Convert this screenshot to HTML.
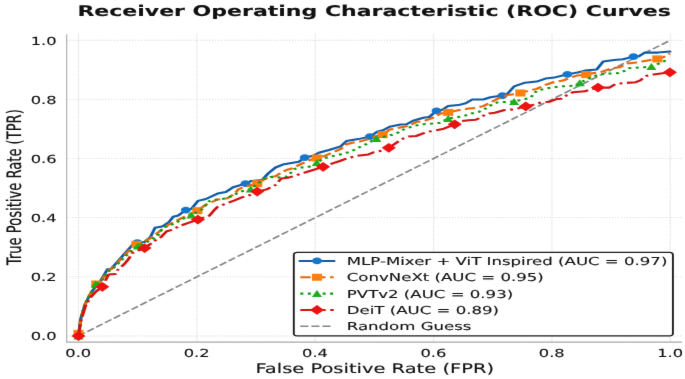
<!DOCTYPE html>
<html lang="en"><head><meta charset="utf-8"><title>Receiver Operating Characteristic (ROC) Curves</title>
<style>html,body{margin:0;padding:0;background:#fff;}svg{display:block;}text{text-rendering:geometricPrecision;font-family:"DejaVu Sans","Liberation Sans",sans-serif;fill:#111;stroke:#111;stroke-width:0.12px;}</style>
</head><body>
<svg width="685" height="379" viewBox="0 0 685 379">
<defs><filter id="soft" x="-2%" y="-2%" width="104%" height="104%" color-interpolation-filters="sRGB"><feConvolveMatrix order="3" kernelMatrix="0.00487 0.05525 0.00487 0.06525 0.73950 0.06525 0.00487 0.05525 0.00487" divisor="1" edgeMode="duplicate" preserveAlpha="false"/></filter></defs>
<rect x="0" y="0" width="685" height="379" fill="#ffffff"/>
<g filter="url(#soft)">
<g transform="scale(1.52,1)">
<line x1="51.64" y1="34.2" x2="51.64" y2="342.1" stroke="#d2d2d2" stroke-width="0.8" stroke-dasharray="0.75 1.2"/>
<line x1="43.88" y1="336.00" x2="448.68" y2="336.00" stroke="#d2d2d2" stroke-width="0.8" stroke-dasharray="0.75 1.2"/>
<line x1="129.51" y1="34.2" x2="129.51" y2="342.1" stroke="#d2d2d2" stroke-width="0.8" stroke-dasharray="0.75 1.2"/>
<line x1="43.88" y1="276.85" x2="448.68" y2="276.85" stroke="#d2d2d2" stroke-width="0.8" stroke-dasharray="0.75 1.2"/>
<line x1="207.38" y1="34.2" x2="207.38" y2="342.1" stroke="#d2d2d2" stroke-width="0.8" stroke-dasharray="0.75 1.2"/>
<line x1="43.88" y1="217.70" x2="448.68" y2="217.70" stroke="#d2d2d2" stroke-width="0.8" stroke-dasharray="0.75 1.2"/>
<line x1="285.25" y1="34.2" x2="285.25" y2="342.1" stroke="#d2d2d2" stroke-width="0.8" stroke-dasharray="0.75 1.2"/>
<line x1="43.88" y1="158.55" x2="448.68" y2="158.55" stroke="#d2d2d2" stroke-width="0.8" stroke-dasharray="0.75 1.2"/>
<line x1="363.12" y1="34.2" x2="363.12" y2="342.1" stroke="#d2d2d2" stroke-width="0.8" stroke-dasharray="0.75 1.2"/>
<line x1="43.88" y1="99.40" x2="448.68" y2="99.40" stroke="#d2d2d2" stroke-width="0.8" stroke-dasharray="0.75 1.2"/>
<line x1="440.99" y1="34.2" x2="440.99" y2="342.1" stroke="#d2d2d2" stroke-width="0.8" stroke-dasharray="0.75 1.2"/>
<line x1="43.88" y1="40.25" x2="448.68" y2="40.25" stroke="#d2d2d2" stroke-width="0.8" stroke-dasharray="0.75 1.2"/>
<line x1="43.88" y1="34.2" x2="43.88" y2="342.70000000000005" stroke="#a8a8a8" stroke-width="0.7"/>
<line x1="43.88" y1="342.1" x2="448.68" y2="342.1" stroke="#a8a8a8" stroke-width="1.1"/>
<polyline points="51.64,336.00 440.99,40.25" fill="none" stroke="#858585" stroke-width="1.45" stroke-linejoin="round" stroke-linecap="butt" stroke-dasharray="5.3 2.0"/>
<polyline points="51.64,336.00 53.03,319.20 55.92,304.60 58.82,295.80 61.18,290.00 65.86,281.70 70.66,269.30 73.03,268.90 88.42,242.80 90.33,242.30 95.07,242.00 98.95,237.10 101.97,227.80 106.64,226.60 111.25,221.90 113.95,216.70 117.24,215.50 122.24,210.10 125.86,209.00 130.20,200.90 135.46,199.00 143.16,193.60 148.55,192.00 153.36,187.20 161.51,183.60 165.39,180.90 172.57,179.90 176.45,173.40 181.25,167.50 186.05,164.60 196.58,161.70 200.46,157.60 206.18,155.80 209.74,152.70 216.45,150.00 224.14,146.40 227.96,141.00 235.66,139.10 243.36,136.60 248.16,131.80 251.97,130.30 256.32,126.70 263.49,124.50 267.50,124.30 271.78,120.70 278.55,117.80 282.37,117.00 287.17,110.90 290.99,109.70 294.87,106.10 301.58,105.10 306.38,103.20 310.72,99.50 317.89,99.50 322.70,97.30 330.53,95.60 333.88,93.70 338.22,86.40 345.39,82.70 353.09,81.60 358.88,78.60 364.61,77.60 373.29,74.30 380.00,72.50 384.87,70.60 392.57,69.40 396.84,61.40 404.08,59.90 409.87,59.20 416.78,56.60 420.39,56.30 424.28,52.60 432.89,52.60 440.72,51.60" fill="none" stroke="#0f5ba8" stroke-width="2.05" stroke-linejoin="round" stroke-linecap="round"/>
<ellipse cx="51.64" cy="336.00" rx="3.23" ry="3.40" fill="#1577cc"/>
<ellipse cx="90.33" cy="242.60" rx="3.23" ry="3.40" fill="#1577cc"/>
<ellipse cx="122.24" cy="210.10" rx="3.23" ry="3.40" fill="#1577cc"/>
<ellipse cx="161.51" cy="183.60" rx="3.23" ry="3.40" fill="#1577cc"/>
<ellipse cx="200.46" cy="157.60" rx="3.23" ry="3.40" fill="#1577cc"/>
<ellipse cx="243.36" cy="136.60" rx="3.23" ry="3.40" fill="#1577cc"/>
<ellipse cx="287.17" cy="110.90" rx="3.23" ry="3.40" fill="#1577cc"/>
<ellipse cx="330.53" cy="95.60" rx="3.23" ry="3.40" fill="#1577cc"/>
<ellipse cx="373.29" cy="74.30" rx="3.23" ry="3.40" fill="#1577cc"/>
<ellipse cx="416.78" cy="56.60" rx="3.23" ry="3.40" fill="#1577cc"/>
<polyline points="51.64,336.00 53.16,319.50 55.59,305.50 58.22,297.00 61.32,288.50 66.12,281.50 70.92,271.00 73.68,268.50 78.95,260.00 84.21,251.50 89.41,245.50 94.14,242.30 99.93,237.40 104.74,231.60 110.53,225.00 117.24,219.90 123.95,214.80 129.87,210.70 135.46,204.60 143.16,199.50 149.54,198.20 154.34,193.80 156.71,189.40 161.51,186.50 169.21,183.60 173.09,179.90 176.45,177.00 181.25,176.30 185.07,172.60 188.95,169.70 192.76,168.20 197.11,164.60 202.37,160.90 208.29,158.10 213.55,155.90 219.34,152.20 224.61,148.60 227.96,144.20 231.78,142.70 236.58,141.60 242.37,139.10 247.17,136.20 251.71,134.70 256.32,129.60 261.58,128.10 268.95,125.80 273.75,122.10 279.47,120.70 284.28,118.20 290.07,113.40 294.87,112.40 303.49,109.70 308.29,108.60 313.09,108.00 317.89,106.10 321.78,103.20 325.59,100.20 328.16,98.10 333.88,95.10 338.68,94.10 342.37,93.00 347.37,90.80 353.09,88.90 358.88,84.90 364.61,82.00 370.39,80.50 375.20,77.60 380.00,75.40 386.32,74.50 390.66,73.10 396.38,71.60 402.17,68.20 407.89,67.20 412.70,63.60 418.49,62.40 425.20,60.70 432.43,58.90 436.71,57.00 440.72,53.40" fill="none" stroke="#ea660a" stroke-width="2.05" stroke-linejoin="round" stroke-linecap="butt" stroke-dasharray="6.8 3.0"/>
<rect x="48.32" y="329.90" width="6.65" height="7.0" fill="#ff7f0e"/>
<rect x="60.03" y="280.50" width="6.65" height="7.0" fill="#ff7f0e"/>
<rect x="86.41" y="240.80" width="6.65" height="7.0" fill="#ff7f0e"/>
<rect x="126.54" y="207.20" width="6.65" height="7.0" fill="#ff7f0e"/>
<rect x="165.89" y="180.10" width="6.65" height="7.0" fill="#ff7f0e"/>
<rect x="205.10" y="154.50" width="6.65" height="7.0" fill="#ff7f0e"/>
<rect x="248.39" y="131.20" width="6.65" height="7.0" fill="#ff7f0e"/>
<rect x="291.54" y="108.90" width="6.65" height="7.0" fill="#ff7f0e"/>
<rect x="339.04" y="89.50" width="6.65" height="7.0" fill="#ff7f0e"/>
<rect x="382.33" y="71.10" width="6.65" height="7.0" fill="#ff7f0e"/>
<rect x="429.11" y="55.40" width="6.65" height="7.0" fill="#ff7f0e"/>
<polyline points="51.64,336.00 53.16,319.80 55.79,305.00 58.55,296.50 62.96,284.50 66.45,281.50 71.05,271.50 74.34,268.50 79.61,260.50 84.87,253.00 90.79,246.00 97.37,241.50 103.29,236.70 107.11,227.70 115.33,223.30 118.68,219.90 125.86,215.10 133.09,209.00 137.89,200.90 142.70,199.50 146.97,198.80 150.53,197.40 155.33,193.80 159.14,191.30 164.93,189.10 170.20,182.80 173.55,179.20 177.89,177.00 183.16,177.40 187.96,177.00 190.86,173.40 193.75,169.00 197.11,167.50 202.37,167.20 206.18,165.30 208.75,162.40 212.57,158.50 217.37,156.60 226.05,153.70 230.86,151.50 234.67,148.60 237.57,146.40 241.91,143.50 247.63,138.40 253.88,136.20 258.22,134.70 262.04,132.50 265.39,129.60 267.96,128.00 272.76,125.80 277.57,124.30 284.28,123.60 289.08,122.90 294.87,118.50 301.58,117.00 305.39,115.90 310.20,113.40 315.00,111.90 318.88,109.00 322.70,105.40 327.17,102.40 331.97,102.00 338.22,101.40 344.47,99.50 349.28,97.30 353.09,90.80 358.88,88.60 363.68,87.40 368.49,86.40 374.21,86.00 378.09,85.70 381.45,82.70 385.79,79.80 389.67,76.70 394.47,74.50 401.18,73.50 406.97,73.10 410.79,70.90 413.68,68.20 418.49,67.70 424.28,67.20 428.55,66.50 432.89,63.90 437.24,60.90 440.72,59.50" fill="none" stroke="#139c13" stroke-width="2.05" stroke-linejoin="round" stroke-linecap="butt" stroke-dasharray="2.0 2.9"/>
<polygon points="51.64,332.50 48.32,339.50 54.97,339.50" fill="#1eae1e"/>
<polygon points="62.96,280.40 59.64,287.40 66.29,287.40" fill="#1eae1e"/>
<polygon points="90.79,242.50 87.46,249.50 94.11,249.50" fill="#1eae1e"/>
<polygon points="125.86,211.60 122.53,218.60 129.18,218.60" fill="#1eae1e"/>
<polygon points="164.93,185.60 161.61,192.60 168.26,192.60" fill="#1eae1e"/>
<polygon points="208.42,159.10 205.10,166.10 211.75,166.10" fill="#1eae1e"/>
<polygon points="247.63,134.90 244.31,141.90 250.96,141.90" fill="#1eae1e"/>
<polygon points="294.87,115.00 291.54,122.00 298.19,122.00" fill="#1eae1e"/>
<polygon points="338.22,97.90 334.90,104.90 341.55,104.90" fill="#1eae1e"/>
<polygon points="381.45,79.20 378.12,86.20 384.77,86.20" fill="#1eae1e"/>
<polygon points="428.55,63.00 425.23,70.00 431.88,70.00" fill="#1eae1e"/>
<polyline points="51.64,336.00 53.29,320.00 56.25,306.00 59.54,297.50 63.16,291.50 67.30,286.80 70.20,278.00 71.58,274.40 75.92,274.10 77.37,270.00 81.71,264.20 84.61,259.10 86.97,253.20 90.79,250.50 95.13,248.10 98.68,244.20 100.86,242.40 103.16,238.90 105.86,237.10 109.67,231.30 114.34,229.40 117.24,226.50 123.95,222.80 130.20,219.60 137.89,215.50 140.72,210.40 143.16,206.80 146.97,204.60 154.34,200.40 159.14,197.40 163.95,195.30 169.21,191.60 175.46,189.40 181.25,185.00 185.07,178.50 189.41,177.70 193.75,176.00 198.55,173.40 203.36,171.20 212.57,166.80 219.34,163.20 223.62,161.00 228.95,158.10 234.67,155.90 242.37,154.40 246.18,152.20 250.99,150.80 255.79,147.80 261.58,142.00 265.39,138.40 268.95,136.50 273.75,136.00 277.57,133.80 282.37,131.60 287.17,130.20 291.97,128.70 299.14,124.30 302.57,121.40 308.29,120.20 313.09,119.70 315.99,117.80 318.88,114.80 321.78,113.40 325.59,112.70 331.97,110.00 338.68,109.30 345.92,106.40 351.18,104.60 355.99,102.40 361.78,101.70 365.59,99.30 369.08,98.80 373.22,94.90 377.04,92.20 384.74,91.30 389.08,89.10 393.42,87.60 401.05,87.60 404.93,84.00 409.74,83.20 418.36,82.20 421.25,80.30 425.07,75.90 429.87,74.50 434.80,73.50 440.72,72.30" fill="none" stroke="#d31212" stroke-width="2.05" stroke-linejoin="round" stroke-linecap="butt" stroke-dasharray="11.8 3.0 1.9 3.0"/>
<polygon points="51.64,331.10 56.30,336.00 51.64,340.90 46.99,336.00" fill="#ec1212"/>
<polygon points="67.30,281.90 71.96,286.80 67.30,291.70 62.65,286.80" fill="#ec1212"/>
<polygon points="95.13,243.20 99.79,248.10 95.13,253.00 90.48,248.10" fill="#ec1212"/>
<polygon points="130.20,214.70 134.85,219.60 130.20,224.50 125.54,219.60" fill="#ec1212"/>
<polygon points="169.21,186.70 173.87,191.60 169.21,196.50 164.56,191.60" fill="#ec1212"/>
<polygon points="212.57,161.90 217.22,166.80 212.57,171.70 207.91,166.80" fill="#ec1212"/>
<polygon points="255.79,142.90 260.44,147.80 255.79,152.70 251.13,147.80" fill="#ec1212"/>
<polygon points="299.14,119.40 303.80,124.30 299.14,129.20 294.49,124.30" fill="#ec1212"/>
<polygon points="345.92,101.50 350.58,106.40 345.92,111.30 341.27,106.40" fill="#ec1212"/>
<polygon points="393.42,82.70 398.08,87.60 393.42,92.50 388.77,87.60" fill="#ec1212"/>
<polygon points="440.72,67.40 445.38,72.30 440.72,77.20 436.07,72.30" fill="#ec1212"/>
<rect x="193.29" y="252.4" width="249.41" height="83.50" rx="2.2" ry="2.2" fill="#ffffff" stroke="#1e1e1e" stroke-width="1.25"/>
<polyline points="197.57,260.90 219.54,260.90" fill="none" stroke="#0f5ba8" stroke-width="2.05" stroke-linejoin="round" stroke-linecap="square"/>
<ellipse cx="208.55" cy="260.90" rx="3.23" ry="3.40" fill="#1577cc"/>
<polyline points="197.57,277.25 219.54,277.25" fill="none" stroke="#ea660a" stroke-width="2.05" stroke-linejoin="round" stroke-linecap="butt" stroke-dasharray="6.8 3.0"/>
<rect x="205.23" y="273.75" width="6.65" height="7.0" fill="#ff7f0e"/>
<polyline points="197.57,293.60 219.54,293.60" fill="none" stroke="#139c13" stroke-width="2.05" stroke-linejoin="round" stroke-linecap="butt" stroke-dasharray="2.0 2.9"/>
<polygon points="208.55,290.10 205.23,297.10 211.88,297.10" fill="#1eae1e"/>
<polyline points="197.57,309.95 219.54,309.95" fill="none" stroke="#d31212" stroke-width="2.05" stroke-linejoin="round" stroke-linecap="butt" stroke-dasharray="11.8 3.0 1.9 3.0"/>
<polygon points="208.55,305.05 213.21,309.95 208.55,314.85 203.90,309.95" fill="#ec1212"/>
<polyline points="197.57,326.30 219.54,326.30" fill="none" stroke="#858585" stroke-width="1.45" stroke-linejoin="round" stroke-linecap="butt" stroke-dasharray="5.3 2.0"/>
</g>
<text transform="translate(374.10,15.70) scale(1.499,1)" font-size="14.7" text-anchor="middle" font-weight="bold">Receiver Operating Characteristic (ROC) Curves</text>
<text transform="translate(374.70,372.60) scale(1.463,1)" font-size="13.3" text-anchor="middle">False Positive Rate (FPR)</text>
<text transform="translate(21.30,187.20) scale(1.52,1) rotate(-90)" font-size="13.1" text-anchor="middle">True Positive Rate (TPR)</text>
<text transform="translate(78.30,356.90) scale(1.465,1)" font-size="11.1" text-anchor="middle">0.0</text>
<text transform="translate(56.60,340.35) scale(1.465,1)" font-size="11.1" text-anchor="end">0.0</text>
<text transform="translate(196.66,356.90) scale(1.465,1)" font-size="11.1" text-anchor="middle">0.2</text>
<text transform="translate(56.60,281.20) scale(1.465,1)" font-size="11.1" text-anchor="end">0.2</text>
<text transform="translate(315.02,356.90) scale(1.465,1)" font-size="11.1" text-anchor="middle">0.4</text>
<text transform="translate(56.60,222.05) scale(1.465,1)" font-size="11.1" text-anchor="end">0.4</text>
<text transform="translate(433.38,356.90) scale(1.465,1)" font-size="11.1" text-anchor="middle">0.6</text>
<text transform="translate(56.60,162.90) scale(1.465,1)" font-size="11.1" text-anchor="end">0.6</text>
<text transform="translate(551.74,356.90) scale(1.465,1)" font-size="11.1" text-anchor="middle">0.8</text>
<text transform="translate(56.60,103.75) scale(1.465,1)" font-size="11.1" text-anchor="end">0.8</text>
<text transform="translate(670.10,356.90) scale(1.465,1)" font-size="11.1" text-anchor="middle">1.0</text>
<text transform="translate(56.60,44.60) scale(1.465,1)" font-size="11.1" text-anchor="end">1.0</text>
<text transform="translate(346.80,264.80) scale(1.515,1)" font-size="10.95" text-anchor="start">MLP-Mixer + ViT Inspired (AUC = 0.97)</text>
<text transform="translate(346.80,281.15) scale(1.515,1)" font-size="10.95" text-anchor="start">ConvNeXt (AUC = 0.95)</text>
<text transform="translate(346.80,297.50) scale(1.515,1)" font-size="10.95" text-anchor="start">PVTv2 (AUC = 0.93)</text>
<text transform="translate(346.80,313.85) scale(1.515,1)" font-size="10.95" text-anchor="start">DeiT (AUC = 0.89)</text>
<text transform="translate(346.80,330.20) scale(1.515,1)" font-size="10.95" text-anchor="start">Random Guess</text>
</g>
</svg>
</body></html>
